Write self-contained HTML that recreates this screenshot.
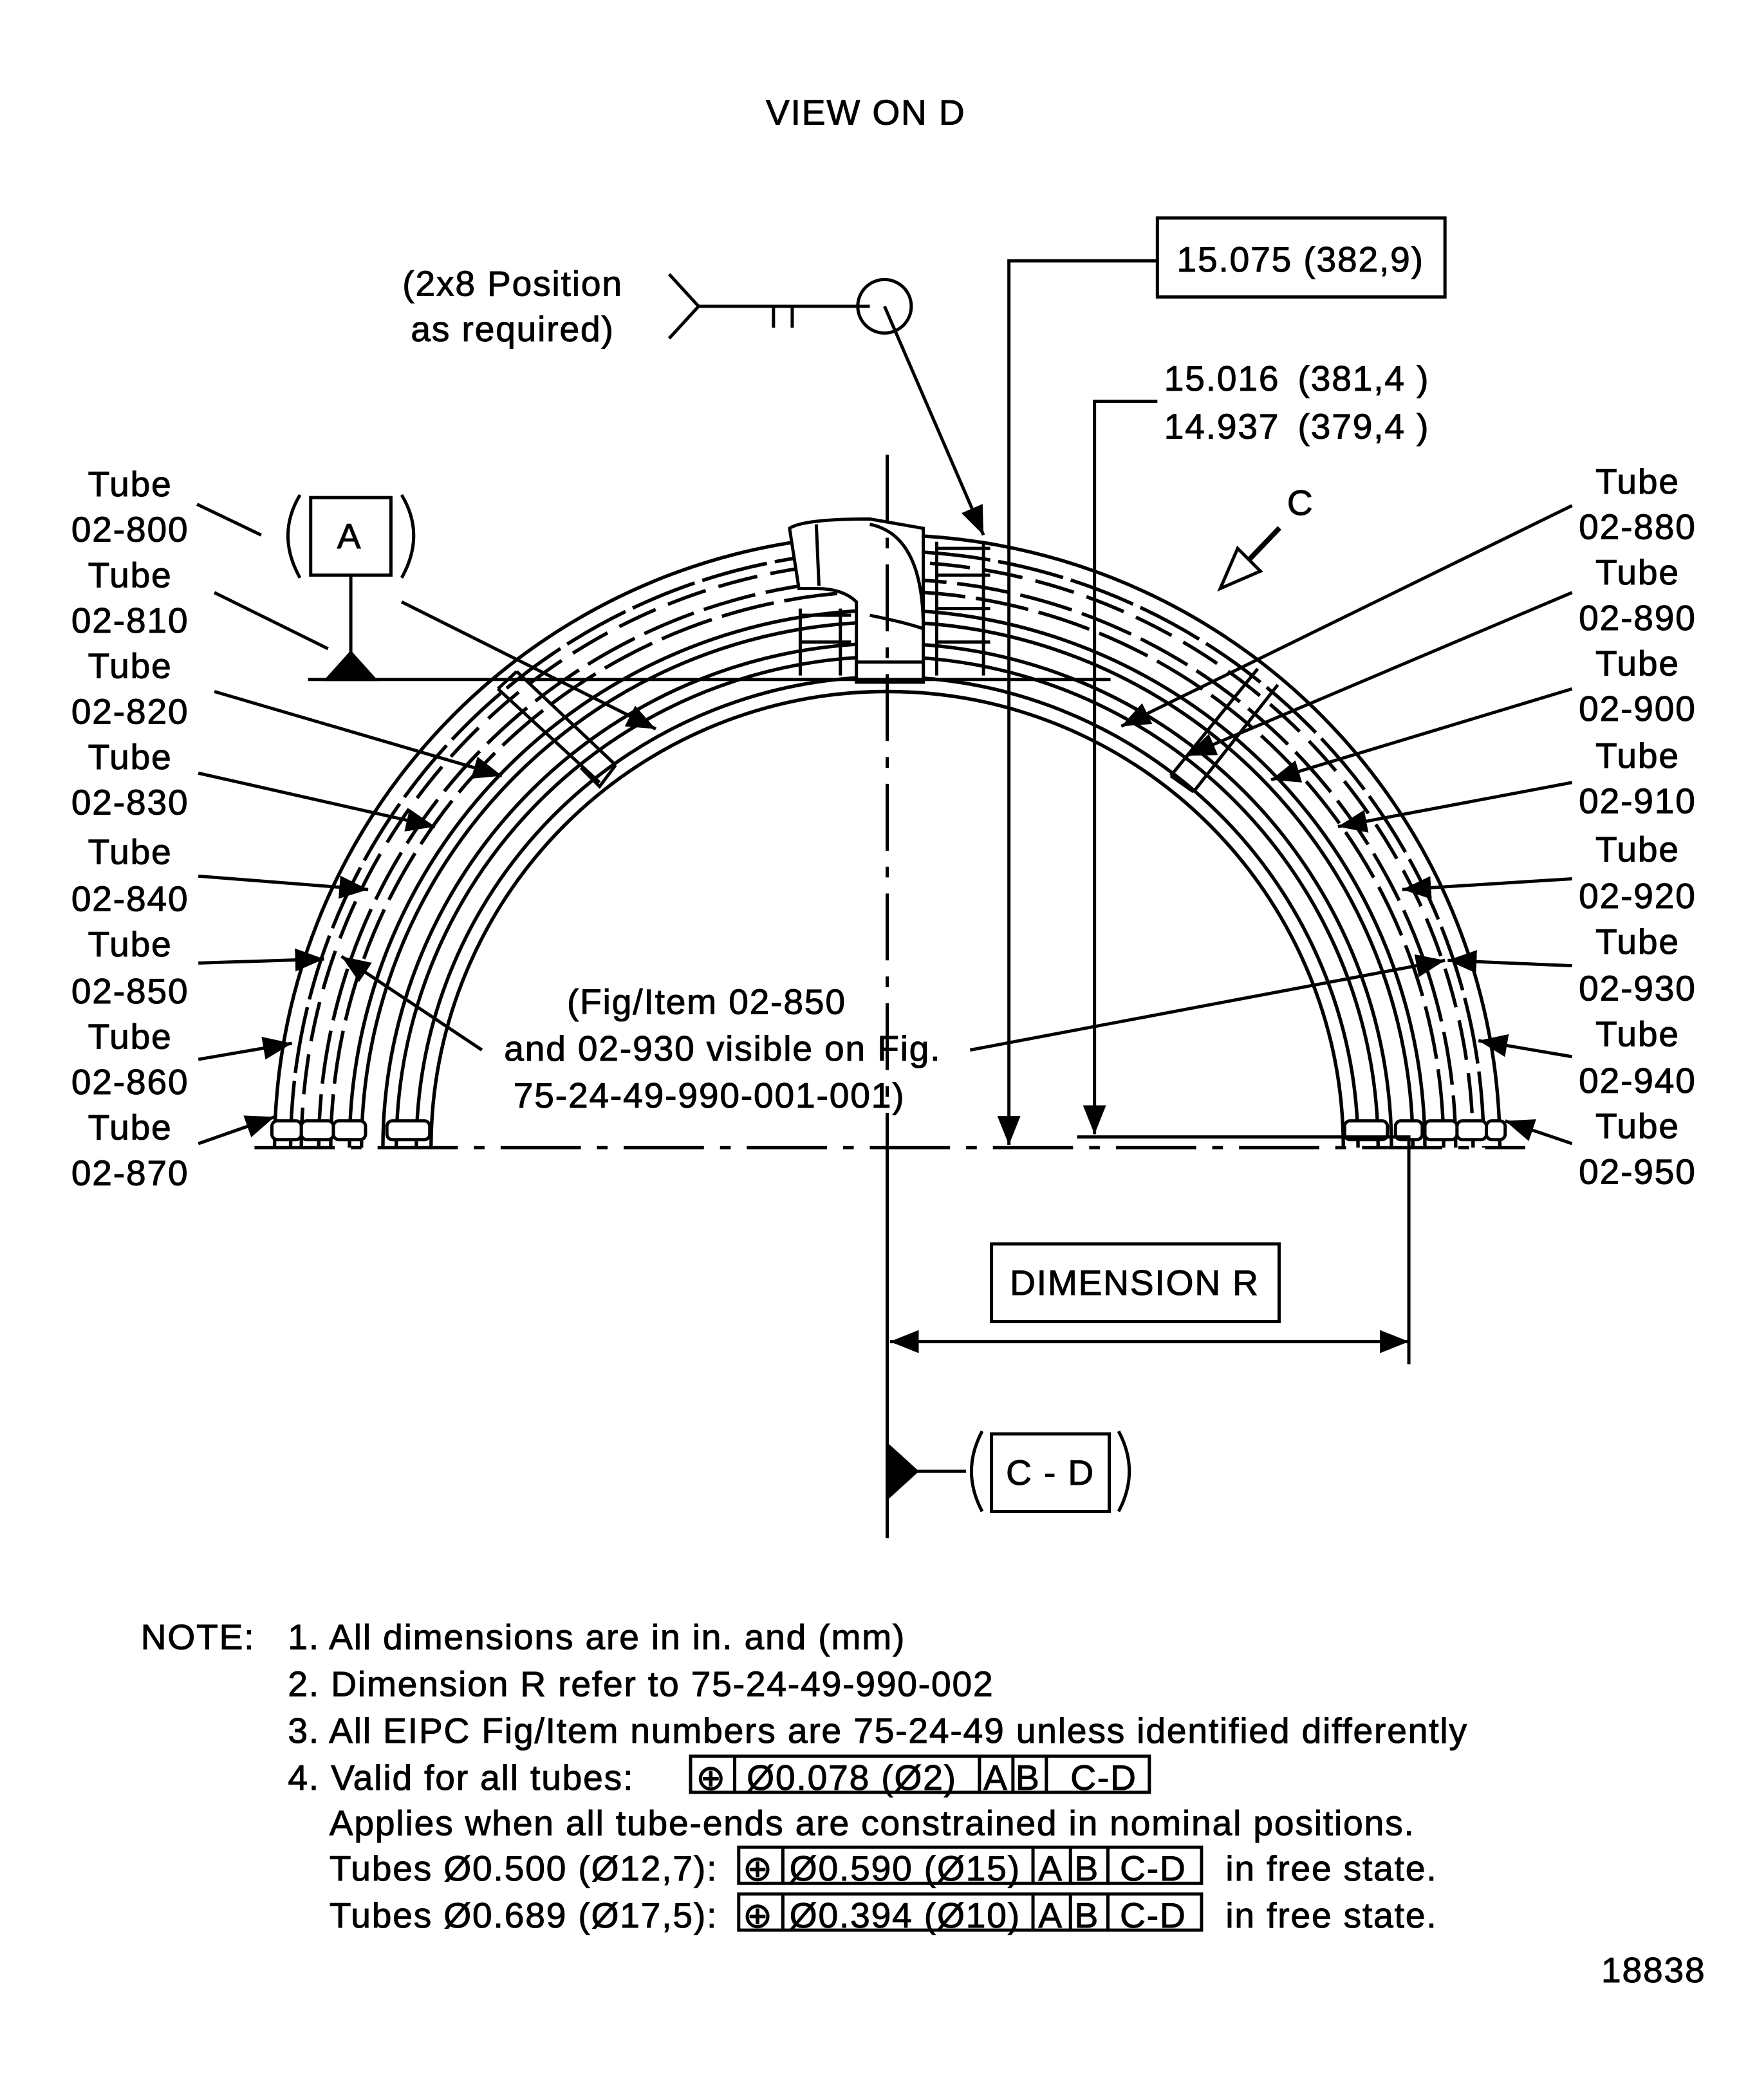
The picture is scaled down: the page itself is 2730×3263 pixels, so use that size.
<!DOCTYPE html>
<html><head><style>html,body{margin:0;padding:0;background:#fff}svg{display:block}</style></head>
<body>
<svg width="2730" height="3263" viewBox="0 0 1313 1570" xmlns="http://www.w3.org/2000/svg" font-family="Liberation Sans, sans-serif" font-size="26.5" fill="none" stroke="#000" stroke-width="2.4">
<defs><marker id="a" viewBox="0 0 10 10" refX="10" refY="5" markerWidth="9" markerHeight="9" orient="auto-start-reverse"><path d="M0,1 L10,5 L0,9z" fill="#000" stroke="none"/></marker></defs>
<g fill="#000" stroke="#000" stroke-width="0.5" letter-spacing="0.9">
<text x="647" y="93" text-anchor="middle">VIEW ON D</text>
<text x="383" y="221" text-anchor="middle">(2x8 Position</text>
<text x="383" y="255" text-anchor="middle">as required)</text>
<text x="972" y="203" text-anchor="middle">15.075 (382,9)</text>
<text x="870" y="292">15.016</text><text x="970" y="292">(381,4 )</text>
<text x="870" y="328">14.937</text><text x="970" y="328">(379,4 )</text>
<text x="962" y="385">C</text>
<text x="261" y="410" text-anchor="middle">A</text>
<g text-anchor="middle">
<text x="97" y="371">Tube</text><text x="97" y="405">02-800</text>
<text x="97" y="439">Tube</text><text x="97" y="473">02-810</text>
<text x="97" y="507">Tube</text><text x="97" y="541">02-820</text>
<text x="97" y="575">Tube</text><text x="97" y="609">02-830</text>
<text x="97" y="646">Tube</text><text x="97" y="681">02-840</text>
<text x="97" y="715">Tube</text><text x="97" y="750">02-850</text>
<text x="97" y="784">Tube</text><text x="97" y="818">02-860</text>
<text x="97" y="852">Tube</text><text x="97" y="886">02-870</text>
<text x="1224" y="369">Tube</text><text x="1224" y="403">02-880</text>
<text x="1224" y="437">Tube</text><text x="1224" y="471">02-890</text>
<text x="1224" y="505">Tube</text><text x="1224" y="539">02-900</text>
<text x="1224" y="574">Tube</text><text x="1224" y="608">02-910</text>
<text x="1224" y="644">Tube</text><text x="1224" y="679">02-920</text>
<text x="1224" y="713">Tube</text><text x="1224" y="748">02-930</text>
<text x="1224" y="782">Tube</text><text x="1224" y="817">02-940</text>
<text x="1224" y="851">Tube</text><text x="1224" y="885">02-950</text>
<text x="528" y="758">(Fig/Item 02-850</text>
<text x="540" y="793">and 02-930 visible on Fig.</text>
<text x="530" y="828">75-24-49-990-001-001)</text>
</g>
<text x="848" y="968" text-anchor="middle">DIMENSION R</text>
<text x="785" y="1110" text-anchor="middle">C - D</text>
<text x="105" y="1233">NOTE:</text>
<text x="215" y="1233">1. All dimensions are in in. and (mm)</text>
<text x="215" y="1268">2. Dimension R refer to 75-24-49-990-002</text>
<text x="215" y="1303">3. All EIPC Fig/Item numbers are 75-24-49 unless identified differently</text>
<text x="215" y="1338">4. Valid for all tubes:</text>
<text x="520" y="1338">⊕</text><text x="558" y="1338">Ø0.078 (Ø2)</text><text x="735" y="1338">A</text><text x="759" y="1338">B</text><text x="800" y="1338">C-D</text>
<text x="246" y="1372">Applies when all tube-ends are constrained in nominal positions.</text>
<text x="246" y="1406">Tubes Ø0.500 (Ø12,7):</text>
<text x="555" y="1406">⊕</text><text x="590" y="1406">Ø0.590 (Ø15)</text><text x="776" y="1406">A</text><text x="803" y="1406">B</text><text x="837" y="1406">C-D</text><text x="916" y="1406">in free state.</text>
<text x="246" y="1441">Tubes Ø0.689 (Ø17,5):</text>
<text x="555" y="1441">⊕</text><text x="590" y="1441">Ø0.394 (Ø10)</text><text x="776" y="1441">A</text><text x="803" y="1441">B</text><text x="837" y="1441">C-D</text><text x="916" y="1441">in free state.</text>
<text x="1275" y="1482" text-anchor="end">18838</text>
</g>
<rect x="516" y="1313" width="343" height="27"/><path d="M549,1313V1340M732,1313V1340M757,1313V1340M782,1313V1340"/>
<rect x="552" y="1381" width="346" height="27"/><path d="M585,1381V1408M772,1381V1408M800,1381V1408M828,1381V1408"/>
<rect x="552" y="1416" width="346" height="27"/><path d="M585,1416V1443M772,1416V1443M800,1416V1443M828,1416V1443"/>
<g stroke-width="2.6">
<path d="M322,858 A341,341 0 0 1 1004,858"/>
<path d="M311,858 A352,352 0 0 1 1015,858"/>
<path d="M296,858 A367,367 0 0 1 1030,858"/>
<path d="M286,858 A377,377 0 0 1 1040,858"/>
<path d="M270,858 A393,393 0 0 1 1056,858"/>
<path d="M261,858 A402,402 0 0 1 1065,858"/>
<path d="M247,858 A416,416 0 0 1 1079,858" stroke-dasharray="40,8"/>
<path d="M238,858 A425,425 0 0 1 1088,858" stroke-dasharray="40,8"/>
<path d="M225,858 A438,438 0 0 1 1101,858" stroke-dasharray="30,10"/>
<path d="M217,858 A446,446 0 0 1 1109,858" stroke-dasharray="50,6"/>
<path d="M205,858 A458,458 0 0 1 1121,858"/>
</g>
<g fill="#fff">
<rect x="203" y="838" width="22" height="14" rx="4"/><rect x="225" y="838" width="24" height="14" rx="4"/><rect x="249" y="838" width="24" height="14" rx="4"/><rect x="289" y="838" width="32" height="14" rx="4"/>
<rect x="1005" y="838" width="32" height="14" rx="4"/><rect x="1043" y="838" width="20" height="14" rx="4"/><rect x="1065" y="838" width="24" height="14" rx="4"/><rect x="1089" y="838" width="22" height="14" rx="4"/><rect x="1111" y="838" width="14" height="14" rx="4"/>
<path d="M590,395 Q600,388 650,388 L690,395 L690,510 L640,510 L640,450 Q630,440 610,440 L597,440 Z"/>
<path d="M640,495 h50 v15 h-50z"/>
</g>
<path d="M610,392 L612,438 M650,392 Q690,400 690,470 Q675,465 650,460"/>
<path d="M598,460 H636 M598,480 H636 M700,410 H740 M700,430 H740 M700,455 H740 M700,480 H740 M700,405 V505 M735,405 V505 M598,455 V505 M628,455 V505"/>
<path d="M372,515 L448,585 M386,502 L460,572 M372,515 L386,502 M434,574 L448,588 L460,572" />
<path d="M940,500 L875,580 M955,512 L892,592 M875,580 L892,592"/>
<path d="M230,508 H830"/>
<path d="M190,858 H1140" stroke-dasharray="60,12,8,12"/>
<path d="M663,340 V858" stroke-dasharray="50,12,8,12"/>
<path d="M663,858 V1150"/>
<rect x="865" y="163" width="215" height="59"/>
<path d="M865,195 H754 V856" marker-end="url(#a)"/>
<path d="M865,300 H818 V848" marker-end="url(#a)"/>
<path d="M805,850 H1053 V1020"/>
<rect x="741" y="930" width="215" height="58"/>
<path d="M665,1003 H1053" marker-start="url(#a)" marker-end="url(#a)"/>
<path d="M663,1080 L685,1100 L663,1120z" fill="#000"/>
<path d="M685,1100 H722"/>
<rect x="741" y="1072" width="88" height="58"/>
<path d="M734,1070 Q718,1100 734,1130 M836,1070 Q852,1100 836,1130"/>
<rect x="232" y="372" width="60" height="58"/>
<path d="M224,370 Q206,400 224,432 M300,370 Q318,400 300,432"/>
<path d="M262,430 V490"/>
<path d="M244,508 L262,488 L280,508z" fill="#000"/>
<path d="M500,205 L522,229 L500,253 M522,229 H650 M578,229 V245 M592,229 V245"/>
<circle cx="661" cy="229" r="20"/>
<path d="M661,229 L735,400" marker-end="url(#a)"/>
<path d="M955,395 L933,418 L942,427 L912,440 L925,410 L934,419 L956,396Z"/>
<path d="M147,377 L195,400"/>
<path d="M160,443 L245,485"/>
<path d="M300,450 L490,545" marker-end="url(#a)"/>
<path d="M160,517 L375,580" marker-end="url(#a)"/>
<path d="M148,578 L325,618" marker-end="url(#a)"/>
<path d="M148,655 L275,665" marker-end="url(#a)"/>
<path d="M148,720 L242,717" marker-end="url(#a)"/>
<path d="M148,792 L218,780" marker-end="url(#a)"/>
<path d="M148,855 L205,835" marker-end="url(#a)"/>
<path d="M1175,378 L838,543" marker-end="url(#a)"/>
<path d="M1175,443 L887,565" marker-end="url(#a)"/>
<path d="M1175,515 L950,583" marker-end="url(#a)"/>
<path d="M1175,585 L1000,618" marker-end="url(#a)"/>
<path d="M1175,657 L1048,665" marker-end="url(#a)"/>
<path d="M1175,722 L1082,718" marker-end="url(#a)"/>
<path d="M1175,790 L1105,778" marker-end="url(#a)"/>
<path d="M1175,855 L1125,838" marker-end="url(#a)"/>
<path d="M725,785 L1080,718" marker-end="url(#a)"/>
<path d="M360,785 L255,715" marker-end="url(#a)"/>
</svg>
</body></html>
